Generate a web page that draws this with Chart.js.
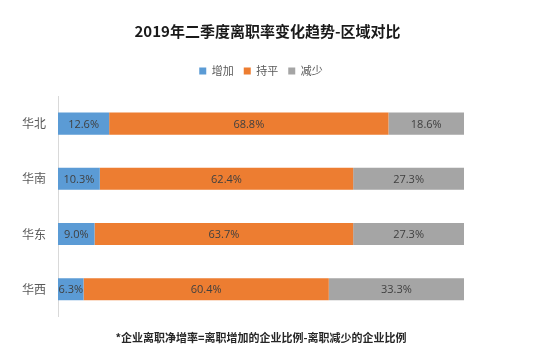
<!DOCTYPE html>
<html>
<head>
<meta charset="utf-8">
<script src="https://cdn.jsdelivr.net/npm/chart.js@4.4.1/dist/chart.umd.min.js"></script>
<style>
  html, body { margin: 0; padding: 0; background: #fff; }
</style>
</head>
<body>
<canvas id="chart-region" width="535" height="360"></canvas>
<script>
// data
const regions = ["华北", "华南", "华东", "华西"];
const seriesNames = ["增加", "持平", "减少"];
const increased = [12.6, 10.3, 9.0, 6.3];
const flat = [68.8, 62.4, 63.7, 60.4];
const decreased = [18.6, 27.3, 27.3, 33.3];
const seriesColors = ["#5B9BD5", "#ED7D31", "#A5A5A5"];

const FONT = '"Microsoft YaHei", "Noto Sans CJK SC", sans-serif';
Chart.defaults.font.family = FONT;

// extra room under the legend
const legendGap = {
  id: "legendGap",
  beforeLayout(chart) {
    const legend = chart.legend;
    if (!legend || legend._gapPatched) return;
    const fit = legend.fit;
    legend.fit = function() {
      fit.call(this);
      this.height += 9.5;
    };
    legend._gapPatched = true;
  }
};

// value labels in the middle of each segment
const barLabels = {
  id: "barLabels",
  afterDatasetsDraw(chart) {
    const { ctx, chartArea } = chart;
    ctx.save();
    ctx.beginPath();
    ctx.rect(chartArea.left, chartArea.top, chartArea.width, chartArea.height);
    ctx.clip();
    ctx.font = '11px "Open Sans", sans-serif';
    ctx.fillStyle = "#404040";
    ctx.textAlign = "center";
    ctx.textBaseline = "middle";
    chart.data.datasets.forEach((ds, i) => {
      chart.getDatasetMeta(i).data.forEach((bar, j) => {
        const p = bar.getCenterPoint();
        ctx.fillText(ds.data[j].toFixed(1) + "%", p.x, p.y + 1);
      });
    });
    ctx.restore();
  }
};

const seriesData = [increased, flat, decreased];

new Chart(document.getElementById("chart-region").getContext("2d"), {
  type: "bar",
  data: {
    labels: regions,
    datasets: seriesNames.map((name, i) => ({
      label: name,
      data: seriesData[i],
      backgroundColor: seriesColors[i],
      borderWidth: 0,
      barPercentage: 0.4,
      categoryPercentage: 1.0
    }))
  },
  options: {
    indexAxis: "y",
    responsive: false,
    animation: false,
    layout: { padding: 0 },
    plugins: {
      title: {
        display: true,
        text: "2019年二季度离职率变化趋势-区域对比",
        color: "#1a1a1a",
        font: { size: 15, weight: "bold", family: FONT, lineHeight: 1.2 },
        padding: { top: 22, bottom: 15.5 }
      },
      legend: {
        display: true,
        position: "top",
        fullSize: false,
        labels: {
          boxWidth: 7,
          boxHeight: 7,
          padding: 10,
          color: "#595959",
          font: { size: 11, family: FONT }
        }
      },
      subtitle: {
        display: true,
        position: "bottom",
        fullSize: false,
        text: "*企业离职净增率=离职增加的企业比例-离职减少的企业比例",
        color: "#262626",
        font: { size: 11, weight: "bold", family: FONT, lineHeight: 1.2 },
        padding: { top: 14, bottom: 16 }
      },
      tooltip: { enabled: false }
    },
    scales: {
      x: {
        stacked: true,
        display: false,
        min: 0,
        max: 100
      },
      y: {
        stacked: true,
        position: "left",
        grid: { display: false, drawTicks: false },
        border: { display: true, color: "#D9D9D9", width: 1 },
        ticks: {
          color: "#595959",
          padding: 12,
          font: { size: 12, family: FONT }
        },
        afterFit(scale) { scale.width = 58; }
      },
      yRight: {
        type: "category",
        axis: "y",
        position: "right",
        display: true,
        grid: { display: false, drawTicks: false },
        border: { display: false },
        ticks: { display: false },
        afterFit(scale) { scale.width = 71; }
      }
    }
  },
  plugins: [legendGap, barLabels]
});
</script>
</body>
</html>
